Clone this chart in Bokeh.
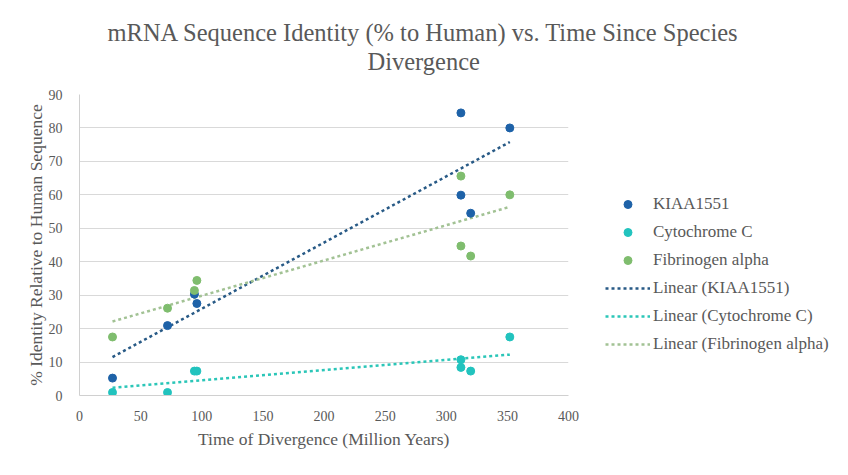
import numpy as np
from bokeh.plotting import figure
from bokeh.models import (ColumnDataSource, Legend, LegendItem, Title,
                          Range1d, FixedTicker)
from bokeh.embed import file_html
from bokeh.resources import INLINE

# ---- data ----
div_time = [27, 72, 94, 96, 312, 312, 320, 352]
kiaa1551 = [5.2, 20.9, 30.3, 27.5, 84.5, 59.9, 54.5, 80.0]
div_time_cyto = [27, 72, 94, 96, 312, 312, 320, 352]
cytochrome_c = [0.9, 0.9, 7.3, 7.3, 10.7, 8.4, 7.3, 17.5]
div_time_fib = [27, 72, 94, 96, 312, 312, 320, 352]
fibrinogen_alpha = [17.5, 26.1, 31.4, 34.4, 65.6, 44.7, 41.7, 60.0]

x_ticks = [0, 50, 100, 150, 200, 250, 300, 350, 400]
y_ticks = [0, 10, 20, 30, 40, 50, 60, 70, 80, 90]

title_line1 = "mRNA Sequence Identity (% to Human) vs. Time Since Species"
title_line2 = "Divergence"
x_label = "Time of Divergence (Million Years)"
y_label = "% Identity Relative to Human Sequence"

SERIF = "Liberation Serif"
TXT = "#595959"

p = figure(frame_width=489, frame_height=301,
           output_backend="svg", toolbar_location=None,
           x_range=Range1d(0, 400), y_range=Range1d(0, 90),
           min_border_left=79, min_border_right=280,
           min_border_top=94, min_border_bottom=80)
p.title = None
p.outline_line_color = None
p.background_fill_color = "white"
p.border_fill_color = "white"

# axes
p.xaxis.ticker = FixedTicker(ticks=x_ticks)
p.yaxis.ticker = FixedTicker(ticks=y_ticks)
for ax in (p.xaxis[0], p.yaxis[0]):
    ax.major_tick_line_color = None
    ax.minor_tick_line_color = None
    ax.axis_line_color = "#d0d0d0"
    ax.major_label_text_font = SERIF
    ax.major_label_text_font_size = "14px"
    ax.major_label_text_color = TXT
    ax.axis_label_text_font = SERIF
    ax.axis_label_text_font_size = "17.5px"
    ax.axis_label_text_font_style = "normal"
    ax.axis_label_text_color = TXT
p.xaxis.axis_label = x_label
p.yaxis.axis_label = y_label
p.xaxis.major_label_standoff = 9
p.yaxis.major_label_standoff = 11
p.xaxis.axis_label_standoff = 5
p.yaxis.axis_label_standoff = 0

p.xgrid.grid_line_color = None
p.ygrid.grid_line_color = "#d9d9d9"
p.ygrid.grid_line_width = 1

# colours
c_kiaa, c_cyto, c_fib = "#1E62A8", "#22C3BE", "#7FBD6E"
t_kiaa, t_cyto, t_fib = "#285A86", "#2BC6B8", "#A2C294"

series = [
    ("KIAA1551", div_time, kiaa1551, c_kiaa, t_kiaa),
    ("Cytochrome C", div_time_cyto, cytochrome_c, c_cyto, t_cyto),
    ("Fibrinogen alpha", div_time_fib, fibrinogen_alpha, c_fib, t_fib),
]

point_items = []
trend_items = []
for name, xs, ys, col, tcol in series:
    # linear trendline (least-squares fit of the series, like Excel)
    m, b = np.polyfit(xs, ys, 1)
    tx = [min(xs), max(xs)]
    ty = [m * tx[0] + b, m * tx[1] + b]
    lr = p.line(tx, ty, line_color=tcol, line_width=2.5, line_dash="3 3")
    trend_items.append(LegendItem(label=f"Linear ({name})", renderers=[lr]))

for name, xs, ys, col, tcol in series:
    src = ColumnDataSource(dict(x=xs, y=ys))
    sr = p.scatter("x", "y", source=src, size=8, fill_color=col, line_color=col)
    point_items.append(LegendItem(label=name, renderers=[sr]))

legend = Legend(items=point_items + trend_items, location=(37, 41),
                orientation="vertical")
legend.border_line_color = None
legend.background_fill_alpha = 0
legend.padding = 0
legend.margin = 20
legend.glyph_width = 45
legend.glyph_height = 20
legend.label_height = 20
legend.spacing = 8
legend.label_standoff = 3
legend.label_text_font = SERIF
legend.label_text_font_size = "17px"
legend.label_text_color = TXT
p.add_layout(legend, "right")

# two-line title, centred over the whole chart (a blank spacer sits below it)
spacer = Title(text=" ", text_font_size="10px", standoff=7)
t2 = Title(text=title_line2, align="left", offset=288, text_font=SERIF,
           text_font_size="24.5px", text_font_style="normal", text_color=TXT,
           vertical_align="bottom", standoff=0)
t1 = Title(text=title_line1, align="left", offset=28, text_font=SERIF,
           text_font_size="24.5px", text_font_style="normal", text_color=TXT,
           vertical_align="bottom", standoff=0)
p.add_layout(spacer, "above")
p.add_layout(t2, "above")
p.add_layout(t1, "above")

open("out.html", "w").write(file_html(p, INLINE))
